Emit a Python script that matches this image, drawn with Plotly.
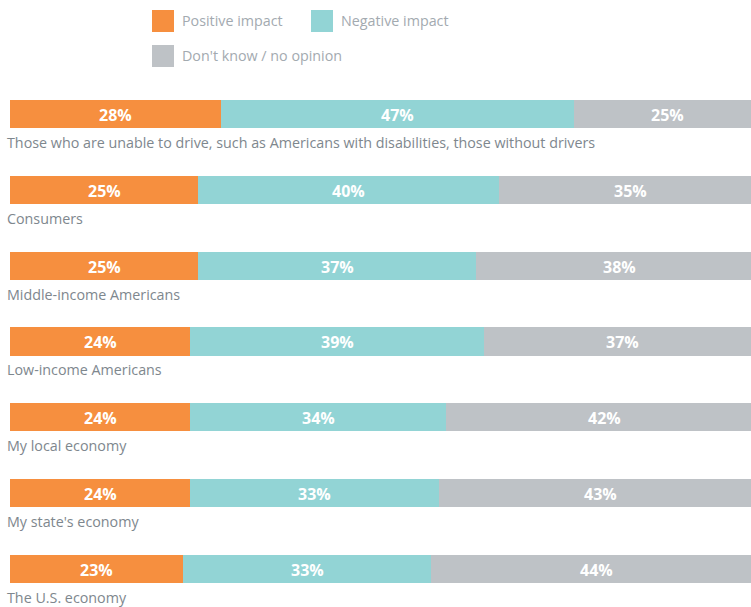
import plotly.graph_objects as go

categories = [
    "Those who are unable to drive, such as Americans with disabilities, those without drivers",
    "Consumers",
    "Middle-income Americans",
    "Low-income Americans",
    "My local economy",
    "My state's economy",
    "The U.S. economy",
]
positive = [28, 25, 25, 24, 24, 24, 23]
negative = [47, 40, 37, 39, 34, 33, 33]
dont_know = [25, 35, 38, 37, 42, 43, 44]

series = [
    ("Positive impact", positive, "#F68F3F"),
    ("Negative impact", negative, "#92D4D5"),
    ("Don't know / no opinion", dont_know, "#BEC2C6"),
]

W, H = 751, 607
FONT = "Open Sans"
ypos = [-i for i in range(len(categories))]

fig = go.Figure()
for name, vals, color in series:
    fig.add_trace(go.Bar(
        y=ypos, x=vals, name=name, orientation="h",
        marker=dict(color=color, line=dict(width=0)),
        width=0.37, showlegend=False, hoverinfo="skip",
    ))

annotations = []
# value labels centred in each segment
for i, y in enumerate(ypos):
    start = 0
    for _, vals, _ in series:
        v = vals[i]
        annotations.append(dict(
            x=start + v / 2, y=y, xref="x", yref="y", text=f"<b>{v}%</b>",
            showarrow=False, font=dict(family=FONT, size=16, color="white"),
            xanchor="center", yanchor="middle", yshift=-1,
        ))
        start += v
    # category label beneath each bar
    annotations.append(dict(
        x=0, y=y, xref="paper", yref="y", text=categories[i],
        showarrow=False, font=dict(family=FONT, size=14.3, color="#7E878E"),
        xanchor="left", yanchor="middle", xshift=5, yshift=-28.5,
    ))

# custom legend: two items on the first row, one on the second
legend_items = [
    ("Positive impact", "#F68F3F", 152, 21),
    ("Negative impact", "#92D4D5", 311, 21),
    ("Don't know / no opinion", "#BEC2C6", 152, 56),
]
shapes = []
for text, color, px, py in legend_items:
    shapes.append(dict(
        type="rect", xref="paper", yref="paper",
        x0=px / W, x1=(px + 22) / W, y0=1 - (py + 11) / H, y1=1 - (py - 11) / H,
        fillcolor=color, line=dict(width=0),
    ))
    annotations.append(dict(
        x=(px + 28) / W, y=1 - py / H, xref="paper", yref="paper", text=text,
        showarrow=False, font=dict(family=FONT, size=14.3, color="#A3AAB0"),
        xanchor="left", yanchor="middle",
    ))

fig.update_layout(
    width=W, height=H, barmode="stack",
    margin=dict(l=0, r=0, t=0, b=0),
    paper_bgcolor="white", plot_bgcolor="white",
    xaxis=dict(range=[-1.33, 98.54], visible=False, fixedrange=True),
    yaxis=dict(range=[-6.501, 1.503], visible=False, fixedrange=True),
    annotations=annotations, shapes=shapes,
)

fig.write_html("out.html")
